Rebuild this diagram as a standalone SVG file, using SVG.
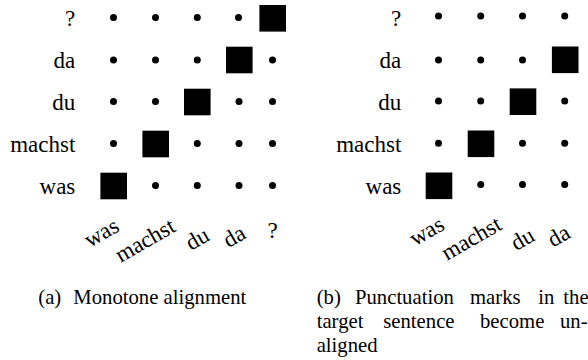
<svg xmlns="http://www.w3.org/2000/svg" width="588" height="360" viewBox="0 0 588 360">
<style>
.lbl{font-family:"Liberation Serif","Times New Roman",serif;font-size:23px}
.cap{font-family:"Liberation Serif","Times New Roman",serif;font-size:20.7px}
</style>
<defs>
<circle id="dot" r="3.5" fill="#000"/>
<rect id="box" x="-13.3" y="-13.3" width="26.6" height="26.6" fill="#000"/>
</defs>
<g id="panel-a">
<g id="a-row-labels" class="lbl" font-family="Liberation Serif, Times New Roman, serif" font-size="23" text-anchor="end" fill="#000">
<text x="75.3" y="25.5">?</text>
<text x="75.3" y="68">da</text>
<text x="75.3" y="110">du</text>
<text x="75.3" y="152">machst</text>
<text x="75.3" y="194">was</text>
</g>
<g id="a-col-labels" class="lbl" font-family="Liberation Serif, Times New Roman, serif" font-size="23" text-anchor="middle" fill="#000">
<text transform="translate(102.5,234.5) rotate(-30)" x="0" y="5.3">was</text>
<text transform="translate(145,240) rotate(-30)" x="0" y="7.8">machst</text>
<text transform="translate(197,238.5) rotate(-30)" x="0" y="7.8">du</text>
<text transform="translate(234,236) rotate(-30)" x="0" y="7.8">da</text>
<text x="272.5" y="237.5">?</text>
</g>
<g id="a-dots">
<use href="#dot" x="113.5" y="17.5"/><use href="#dot" x="155.5" y="17.5"/><use href="#dot" x="197.3" y="17.5"/><use href="#dot" x="238.5" y="17.5"/>
<use href="#dot" x="113.5" y="60"/><use href="#dot" x="155.5" y="60"/><use href="#dot" x="197.3" y="60"/><use href="#dot" x="272.5" y="60"/>
<use href="#dot" x="113.5" y="101.5"/><use href="#dot" x="155.5" y="101.5"/><use href="#dot" x="239" y="101.5"/><use href="#dot" x="272.5" y="101.5"/>
<use href="#dot" x="113.5" y="143.5"/><use href="#dot" x="197.3" y="143.5"/><use href="#dot" x="239" y="143.5"/><use href="#dot" x="272.5" y="143.5"/>
<use href="#dot" x="155.5" y="185.5"/><use href="#dot" x="197.3" y="185.5"/><use href="#dot" x="239" y="185.5"/><use href="#dot" x="272.5" y="185.5"/>
</g>
<g id="a-alignments">
<use href="#box" x="113.7" y="186"/>
<use href="#box" x="155.7" y="144"/>
<use href="#box" x="197.3" y="102"/>
<use href="#box" x="239.3" y="60"/>
<use href="#box" x="272.7" y="18.3"/>
</g>
<g id="caption-a" class="cap" font-family="Liberation Serif, Times New Roman, serif" font-size="20.7" fill="#000">
<text x="38.3" y="303.5">(a)</text>
<text x="73.3" y="303.5">Monotone alignment</text>
</g>
</g>
<g id="panel-b">
<g id="b-row-labels" class="lbl" font-family="Liberation Serif, Times New Roman, serif" font-size="23" text-anchor="end" fill="#000">
<text x="401.3" y="25.5">?</text>
<text x="401.3" y="68">da</text>
<text x="401.3" y="110">du</text>
<text x="401.3" y="152">machst</text>
<text x="401.3" y="194">was</text>
</g>
<g id="b-col-labels" class="lbl" font-family="Liberation Serif, Times New Roman, serif" font-size="23" text-anchor="middle" fill="#000">
<text transform="translate(427.8,233) rotate(-30)" x="0" y="5.3">was</text>
<text transform="translate(471.2,238) rotate(-30)" x="0" y="7.8">machst</text>
<text transform="translate(522.3,238.8) rotate(-30)" x="0" y="7.8">du</text>
<text transform="translate(558.5,235.5) rotate(-30)" x="0" y="7.8">da</text>
</g>
<g id="b-dots">
<use href="#dot" x="438.5" y="16"/><use href="#dot" x="480.7" y="16"/><use href="#dot" x="522.5" y="16"/><use href="#dot" x="564.7" y="16"/>
<use href="#dot" x="438.5" y="60"/><use href="#dot" x="480.7" y="60"/><use href="#dot" x="522.5" y="60"/>
<use href="#dot" x="438.5" y="101"/><use href="#dot" x="480.7" y="101"/><use href="#dot" x="564.7" y="101"/>
<use href="#dot" x="438.5" y="143.3"/><use href="#dot" x="522.5" y="143.3"/><use href="#dot" x="564.7" y="143.3"/>
<use href="#dot" x="480.7" y="184.5"/><use href="#dot" x="522.5" y="184.5"/><use href="#dot" x="564.7" y="184.5"/>
</g>
<g id="b-alignments">
<use href="#box" x="439" y="185.8"/>
<use href="#box" x="481" y="143.8"/>
<use href="#box" x="523" y="101.7"/>
<use href="#box" x="565.2" y="59.8"/>
</g>
<g id="caption-b" class="cap" font-family="Liberation Serif, Times New Roman, serif" font-size="20.7" fill="#000">
<text y="303.5"><tspan x="316.7">(b)</tspan><tspan x="355">Punctuation</tspan><tspan x="470">marks</tspan><tspan x="538.3">in</tspan><tspan x="563.3">the</tspan></text>
<text y="327.5"><tspan x="316.7">target</tspan><tspan x="383.3">sentence</tspan><tspan x="480">become</tspan><tspan x="560">un-</tspan></text>
<text x="316.7" y="351.5">aligned</text>
</g>
</g>
</svg>
